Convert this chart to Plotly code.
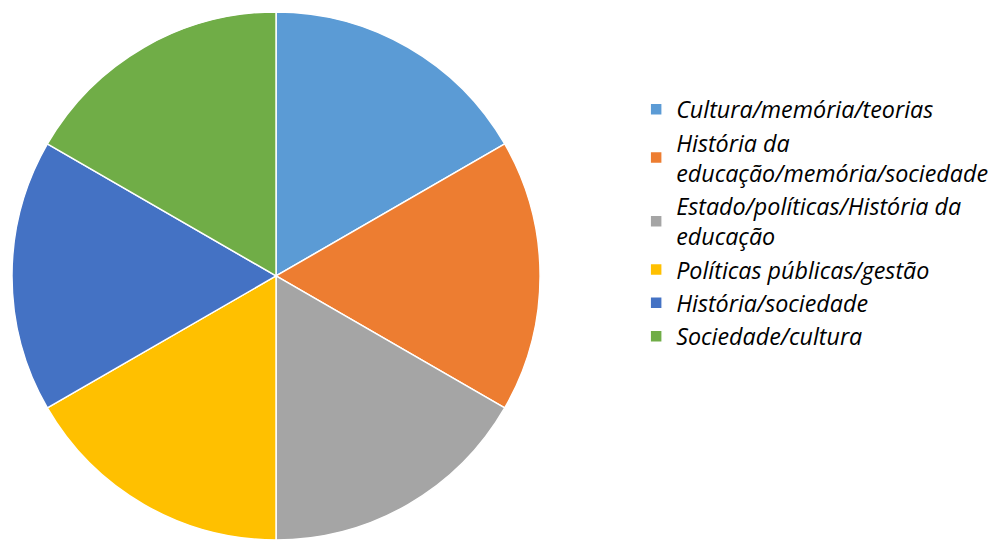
import plotly.graph_objects as go

labels = [
    "Cultura/memória/teorias",
    "História da<br>educação/memória/sociedade",
    "Estado/políticas/História da<br>educação",
    "Políticas públicas/gestão",
    "História/sociedade",
    "Sociedade/cultura",
]
values = [1, 1, 1, 1, 1, 1]
colors = ["#5B9BD5", "#ED7D31", "#A5A5A5", "#FFC000", "#4472C4", "#70AD47"]

fig = go.Figure(go.Pie(
    labels=labels,
    values=values,
    sort=False,
    direction="clockwise",
    rotation=0,
    textinfo="none",
    hoverinfo="label",
    marker=dict(colors=colors, line=dict(color="white", width=1.5)),
    domain=dict(x=[0.0101, 0.5453], y=[0.0, 0.978]),
))

fig.update_layout(
    width=994,
    height=540,
    margin=dict(l=0, r=0, t=0, b=0, autoexpand=False),
    paper_bgcolor="white",
    plot_bgcolor="white",
    showlegend=True,
    legend=dict(
        x=0.640, y=0.838, xanchor="left", yanchor="top",
        font=dict(family="Open Sans", size=23.3, color="#000000", style="italic"),
        bgcolor="rgba(0,0,0,0)",
    ),
)

fig.write_html("out.html")
